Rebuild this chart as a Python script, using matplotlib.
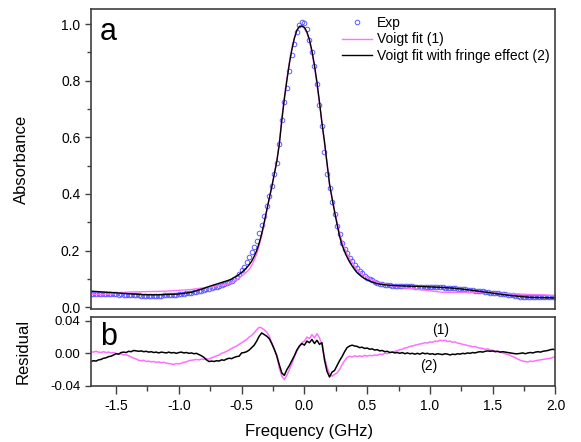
import numpy as np
import matplotlib
matplotlib.use('Agg')
import matplotlib.pyplot as plt
from matplotlib.ticker import MultipleLocator, FormatStrFormatter

plt.rcParams['font.family'] = ['Liberation Sans', 'DejaVu Sans']
plt.rcParams['axes.unicode_minus'] = False

# measured absorbance, one point every 0.02 GHz from -1.70 to 2.00
exp_freq = np.round(np.arange(-170, 201, 2) / 100.0, 2)
exp_abs = [
    0.047, 0.048, 0.047, 0.048, 0.048, 0.047, 0.048, 0.047, 0.047, 0.046,
    0.046, 0.045, 0.046, 0.045, 0.044, 0.044, 0.043, 0.043, 0.042, 0.042,
    0.041, 0.041, 0.040, 0.040, 0.040, 0.040, 0.040, 0.041, 0.041, 0.042,
    0.042, 0.043, 0.043, 0.044, 0.045, 0.046, 0.047, 0.048, 0.049, 0.050,
    0.052, 0.053, 0.055, 0.057, 0.059, 0.061, 0.063, 0.066, 0.069, 0.071,
    0.073, 0.075, 0.078, 0.081, 0.085, 0.089, 0.094, 0.100, 0.107, 0.119,
    0.131, 0.144, 0.160, 0.179, 0.196, 0.214, 0.234, 0.262, 0.290, 0.322,
    0.356, 0.394, 0.428, 0.472, 0.510, 0.578, 0.660, 0.725, 0.775, 0.835,
    0.890, 0.930, 0.972, 0.995, 1.006, 1.003, 0.984, 0.942, 0.902, 0.852,
    0.788, 0.715, 0.640, 0.550, 0.470, 0.420, 0.372, 0.328, 0.287, 0.259,
    0.227, 0.205, 0.190, 0.175, 0.163, 0.149, 0.138, 0.129, 0.121, 0.112,
    0.105, 0.099, 0.095, 0.091, 0.087, 0.084, 0.082, 0.080, 0.078, 0.077,
    0.076, 0.076, 0.075, 0.075, 0.075, 0.074, 0.074, 0.074, 0.074, 0.073,
    0.073, 0.073, 0.073, 0.073, 0.072, 0.072, 0.072, 0.071, 0.071, 0.070,
    0.070, 0.069, 0.069, 0.068, 0.067, 0.067, 0.066, 0.065, 0.064, 0.063,
    0.062, 0.061, 0.060, 0.059, 0.058, 0.057, 0.056, 0.055, 0.054, 0.052,
    0.051, 0.050, 0.049, 0.048, 0.047, 0.046, 0.045, 0.043, 0.042, 0.040,
    0.039, 0.038, 0.037, 0.036, 0.036, 0.035, 0.035, 0.035, 0.035, 0.035,
    0.035, 0.035, 0.035, 0.036, 0.036, 0.036,
]

# fitted curves
fit_freq = [-1.70, -1.60, -1.50, -1.40, -1.30, -1.20, -1.10, -1.00, -0.90, -0.80,
            -0.75, -0.70, -0.65,
            -0.60, -0.58, -0.56, -0.54, -0.52, -0.50, -0.48, -0.46, -0.44, -0.42,
            -0.40, -0.38, -0.36, -0.34, -0.32, -0.30, -0.28, -0.26, -0.24, -0.22,
            -0.20, -0.18, -0.16, -0.14, -0.12, -0.10, -0.08, -0.06, -0.04, -0.02,
            0.00, 0.02, 0.04, 0.06, 0.08, 0.10, 0.12, 0.14, 0.16, 0.18,
            0.20, 0.22, 0.24, 0.26, 0.28, 0.30, 0.32, 0.34, 0.36, 0.38,
            0.40, 0.42, 0.44, 0.46, 0.48, 0.50, 0.52, 0.54, 0.56, 0.58,
            0.60, 0.65, 0.70, 0.75, 0.80, 0.90, 1.00, 1.10, 1.20, 1.30,
            1.40, 1.50, 1.60, 1.70, 1.80, 1.90, 2.00]
voigt_fit = [0.046, 0.045, 0.049, 0.054, 0.055, 0.056, 0.057, 0.060, 0.063, 0.069,
             0.070, 0.075, 0.079,
             0.083, 0.087, 0.092, 0.097, 0.103, 0.110, 0.117, 0.125, 0.134, 0.148,
             0.167, 0.188, 0.218, 0.253, 0.295, 0.339, 0.383, 0.425, 0.470, 0.515,
             0.583, 0.666, 0.740, 0.806, 0.865, 0.912, 0.951, 0.977, 0.993, 0.992,
             0.985, 0.969, 0.941, 0.898, 0.847, 0.787, 0.718, 0.650, 0.577, 0.506,
             0.432, 0.387, 0.343, 0.301, 0.263, 0.232, 0.209, 0.188, 0.172, 0.159,
             0.146, 0.134, 0.126, 0.118, 0.111, 0.107, 0.101, 0.096, 0.093, 0.089,
             0.086, 0.081, 0.076, 0.073, 0.068, 0.064, 0.058, 0.053, 0.053, 0.053,
             0.052, 0.050, 0.048, 0.047, 0.045, 0.044, 0.041]
fringe_fit = [0.057, 0.054, 0.051, 0.048, 0.045, 0.044, 0.045, 0.047, 0.053, 0.067,
              0.075, 0.082, 0.089,
              0.096, 0.100, 0.105, 0.110, 0.116, 0.123, 0.131, 0.140, 0.150, 0.163,
              0.180, 0.200, 0.227, 0.260, 0.300, 0.343, 0.385, 0.425, 0.470, 0.515,
              0.575, 0.660, 0.735, 0.800, 0.860, 0.910, 0.950, 0.978, 0.991, 0.993,
              0.988, 0.972, 0.945, 0.905, 0.855, 0.795, 0.725, 0.650, 0.585, 0.510,
              0.436, 0.385, 0.338, 0.293, 0.251, 0.220, 0.197, 0.177, 0.160, 0.146,
              0.133, 0.122, 0.114, 0.107, 0.101, 0.097, 0.093, 0.089, 0.086, 0.084,
              0.082, 0.079, 0.077, 0.076, 0.075, 0.074, 0.072, 0.070, 0.067, 0.062,
              0.056, 0.050, 0.044, 0.039, 0.035, 0.034, 0.033]

# residuals (x 1e-3), same 0.02 GHz grid as exp_freq
res_voigt_milli = [
    2, 1.5, 2.5, 1.5, 1, 2, 1, 1.5, 0.5, 1,
    0, -1, -0.5, -2, -1.5, -3, -4.5, -6, -7, -8.5,
    -9, -8.5, -10, -9.5, -10.5, -10, -11, -10.5, -11.5, -11,
    -12, -12.5, -13, -13.5, -12.5, -13, -12, -11, -10.5, -9,
    -8.5, -8, -7.5, -8, -7, -7.5, -6.5, -7, -5.5, -4.5,
    -3, -2, 0, 1, 2.5, 4, 6, 7.5, 9, 11,
    13, 15, 17, 20, 22, 25, 29, 32, 31, 29,
    26, 21, 13, 5, -3, -18, -28, -32, -27, -20,
    -13, -4, 3, 8, 13, 15, 20, 18, 23, 19,
    24, 19, 10, -5, -17, -25, -28, -26, -24, -20,
    -14, -9, -5, -3.5, -4.5, -3, -4, -3, -4, -2.5,
    -3.5, -2.5, -3, -2, -2.5, -1, -1.5, 0, -0.5, 1,
    1.5, 2.5, 3, 4.5, 5, 6.5, 7, 8.5, 9, 10,
    10.5, 11.5, 12, 13, 12.5, 14, 13.5, 15, 14.5, 16,
    15.5, 16, 14.5, 15, 13.5, 14, 12.5, 12, 11, 10.5,
    9.5, 9, 8, 8.5, 7, 6.5, 6, 5, 5.5, 4,
    3.5, 3, 2, 1.5, 0.5, -0.5, -1.5, -2.5, -4, -5.5,
    -7, -8.5, -9.5, -10, -10.5, -9.5, -10, -9, -8.5, -8,
    -7.5, -7, -6.5, -6, -5, -4,
]
res_fringe_milli = [
    -10, -9, -9.5, -8, -7.5, -6, -5.5, -4, -3.5, -2,
    -0.5, -1, 1, 1.5, 1, 2.5, 2, 3.5, 3, 2.5,
    3, 2, 2.5, 1.5, 2, 1, 1.5, 0.5, 1.5, 1,
    0.5, 1.5, 0.5, 1, 0, 1, 1.5, 0.5, 1, 0,
    0.5, -0.5, 0, -1.5, -3, -5, -8, -10, -9.5, -10,
    -9, -9.5, -8, -8.5, -7, -6, -6.5, -5, -4, -3.5,
    0.5, 1, 2, 4, 7, 10, 15, 21, 25, 23,
    21, 18, 12, 5, -3, -14, -24, -27, -20, -15,
    -9, -3, 4, 9, 12, 10, 15, 13, 17, 12,
    16, 11, 13, -8, -22, -29, -23, -21, -15, -9,
    -4, 2, 7, 9, 10, 9, 8.5, 7, 7.5, 6,
    6.5, 5, 5.5, 4, 4.5, 3, 3.5, 2, 2.5, 1,
    1.5, 0.5, 1, 0, 1, -0.5, 0.5, -0.5, 0, -1,
    0, -1, 0.5, -0.5, 0, -1, -0.5, -1.5, -0.5, -1,
    -1.5, -0.5, -1, -2, -1, -1.5, -0.5, -1, 0, -0.5,
    0.5, 0, 1, 0.5, 1.5, 2, 1.5, 2.5, 3, 2.5,
    3, 2, 2.5, 1.5, 2, 1.5, 1, 0.5, 0, -0.5,
    -0.5, 0, 0.5, -0.5, 0.5, 1, 0.5, 1.5, 2, 1.5,
    2.5, 3, 3.5, 4.5, 5, 4,
]

res_voigt = np.array(res_voigt_milli) / 1000.0
res_fringe = np.array(res_fringe_milli) / 1000.0

pink = '#ff70ff'
spine_col = '#404040'

fig = plt.figure(figsize=(5.81, 4.42), dpi=100)
ax1 = fig.add_axes([0.1566, 0.3009, 0.7995, 0.6787])
ax2 = fig.add_axes([0.1566, 0.1267, 0.7995, 0.1561])

ax1.plot(exp_freq, exp_abs, 'o', mfc='none', mec='#5a5aff', ms=3.3, mew=0.7, label='Exp')
ax1.plot(fit_freq, voigt_fit, color=pink, lw=1.0, label='Voigt fit (1)')
ax1.plot(fit_freq, fringe_fit, color='black', lw=1.0, label='Voigt fit with fringe effect (2)')

ax1.set_xlim(-1.7, 2.0)
ax1.set_ylim(-0.006, 1.053)
ax1.set_xticks([])
ax1.yaxis.set_major_locator(MultipleLocator(0.2))
ax1.yaxis.set_minor_locator(MultipleLocator(0.1))
ax1.yaxis.set_major_formatter(FormatStrFormatter('%.1f'))
ax1.set_ylabel('Absorbance', fontsize=12)
ax1.yaxis.set_label_coords(-0.133, 0.5)
ax1.text(0.018, 0.975, 'a', transform=ax1.transAxes, fontsize=22, va='top', ha='left')
ax1.legend(loc='upper left', bbox_to_anchor=(0.54, 0.978), frameon=False, fontsize=10,
           borderpad=0, borderaxespad=0, handlelength=2.2, handletextpad=0.35,
           labelspacing=0.2)

ax2.plot(exp_freq, res_voigt, color=pink, lw=1.1)
ax2.plot(exp_freq, res_fringe, color='black', lw=1.1)
ax2.set_xlim(-1.7, 2.0)
ax2.set_ylim(-0.04, 0.0445)
ax2.set_yticks([-0.04, 0.0, 0.04])
ax2.yaxis.set_major_formatter(FormatStrFormatter('%.2f'))
ax2.xaxis.set_major_locator(MultipleLocator(0.5))
ax2.xaxis.set_minor_locator(MultipleLocator(0.25))
ax2.xaxis.set_major_formatter(FormatStrFormatter('%.1f'))
ax2.set_ylabel('Residual', fontsize=12)
ax2.yaxis.set_label_coords(-0.131, 0.5)
ax2.set_xlabel('Frequency (GHz)', fontsize=12)
ax2.xaxis.set_label_coords(0.47, -0.55)
ax2.text(0.02, 0.93, 'b', transform=ax2.transAxes, fontsize=22, va='top', ha='left')
ax2.text(1.085, 0.028, '(1)', fontsize=10, ha='center', va='center')
ax2.text(0.99, -0.016, '(2)', fontsize=10, ha='center', va='center')

for ax in (ax1, ax2):
    for s in ax.spines.values():
        s.set_color(spine_col)
        s.set_linewidth(1.2)
    ax.tick_params(which='both', direction='out', color=spine_col, width=1.0,
                   labelsize=10, right=False, top=False)
    ax.tick_params(which='major', length=4.2)
    ax.tick_params(which='minor', length=3)
ax2.tick_params(axis='y', labelsize=9.5)
ax2.tick_params(axis='x', which='major', length=5.8)
ax2.tick_params(axis='x', which='minor', length=3.4)

fig.savefig('out.png', dpi=100)
